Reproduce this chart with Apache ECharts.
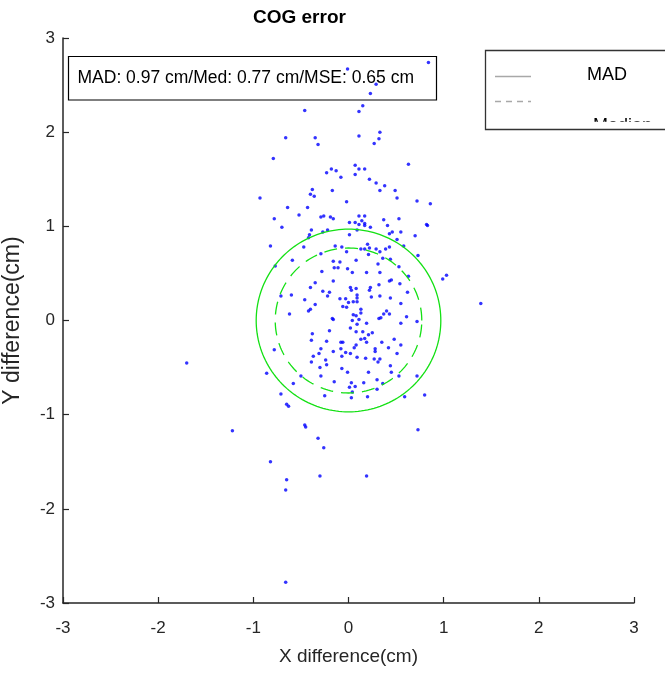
<!DOCTYPE html>
<html>
<head>
<meta charset="utf-8">
<script src="https://cdn.jsdelivr.net/npm/echarts@6/dist/echarts.min.js"></script>
<style>
html,body{margin:0;padding:0;background:#fff;}
#chart{width:665px;height:673px;}
</style>
</head>
<body>
<div id="chart"></div>
<script>
// ---- data ----
const xDiff = [
-0.01,0.84,0.29,0.23,0.15,0.11,0.11,0.33,0.32,0.27,
0.63,-0.18,-0.13,0.07,0.11,0.17,0.07,-0.08,0.22,0.29,
0.38,0.33,0.49,0.51,-0.17,0.72,0.86,-0.02,-0.19,-0.16,
0.11,0.17,0.01,0.07,0.14,0.17,0.17,0.11,0.23,0.37,
0.53,0.41,0.82,0.83,0.09,0.01,0.46,0.43,0.55,0.70,
0.51,-0.46,-0.66,-0.35,-0.32,-0.79,-0.23,-0.93,-0.38,-0.40,
-0.36,-0.64,-0.43,-0.52,-0.29,-0.26,-0.78,-0.70,-0.39,-0.22,
-0.27,-0.41,-0.42,-0.82,-0.47,-0.14,-0.29,-0.59,-0.77,-0.16,
-0.15,-0.11,-0.28,-0.16,-0.35,-0.40,-0.27,-0.20,-0.22,-0.71,
-0.60,-0.46,-0.09,-0.35,-0.40,-0.42,-0.62,-0.17,-0.16,-0.20,
-0.38,-0.39,-0.23,-0.78,-0.29,-0.08,-0.16,-0.37,-0.31,-0.24,
-0.07,-0.02,0.13,0.17,0.20,0.22,0.29,0.33,0.39,0.43,
0.58,0.21,0.36,0.44,0.73,-0.09,0.08,0.31,-0.01,0.04,
0.19,0.33,0.53,0.63,1.03,0.99,0.45,0.43,0.54,0.32,
0.02,0.08,0.23,0.22,0.03,0.62,0.09,0.33,0.24,0.44,
-0.03,0.09,0.09,0.05,0.00,0.55,1.39,-0.06,-0.02,0.13,
0.13,0.40,0.37,0.43,0.05,0.08,0.32,0.34,0.61,0.72,
0.11,0.04,0.55,0.09,0.19,0.02,0.08,0.15,0.21,0.25,
0.48,0.13,0.17,0.19,-0.08,-0.06,0.35,0.55,0.08,0.06,
0.42,0.28,0.28,0.02,-0.03,0.51,-0.07,0.09,0.18,0.27,
0.33,-1.70,-0.39,-0.30,-0.23,-0.86,-0.50,-0.29,-0.58,-0.15,
-0.71,-0.25,-0.65,-0.63,-0.46,-0.45,-1.22,-0.32,-0.26,-0.82,
-0.65,-0.30,-0.66,0.31,0.44,0.45,0.53,0.72,-0.07,-0.01,
0.21,0.03,0.01,0.07,0.16,0.30,0.36,0.30,0.04,0.03,
0.20,0.59,0.80,0.73,0.19,-0.66
];
const yDiff = [
2.67,2.74,2.51,2.41,2.28,2.22,1.96,2.00,1.93,1.88,
1.66,1.61,1.59,1.65,1.61,1.61,1.55,1.52,1.50,1.46,
1.43,1.38,1.38,1.30,1.38,1.27,1.24,1.26,1.10,1.08,
1.11,1.11,1.04,1.04,1.06,1.03,1.01,1.02,0.99,1.07,
1.08,1.01,1.02,1.01,0.96,0.91,0.94,0.92,0.94,0.90,
0.86,2.23,1.94,1.94,1.87,1.72,1.57,1.30,1.39,1.34,
1.32,1.20,1.20,1.12,1.10,1.11,1.08,0.99,0.96,0.96,
0.94,0.91,0.88,0.79,0.78,0.79,0.71,0.64,0.58,0.63,
0.56,0.56,0.52,0.42,0.40,0.35,0.31,0.30,0.26,0.26,
0.27,0.22,0.23,0.17,0.12,0.10,0.07,0.02,0.01,-0.11,
-0.14,-0.21,-0.22,-0.31,-0.30,-0.30,-0.33,-0.38,-0.35,-0.42,
0.78,0.73,0.76,0.76,0.81,0.77,0.76,0.73,0.76,0.78,
0.79,0.70,0.66,0.65,0.69,0.62,0.64,0.60,0.55,0.51,
0.51,0.51,0.57,0.47,0.48,0.44,0.43,0.42,0.39,0.38,
0.35,0.34,0.35,0.32,0.32,0.30,0.27,0.26,0.25,0.24,
0.23,0.24,0.20,0.20,0.19,0.18,0.18,0.15,0.14,0.12,
0.08,0.10,0.07,0.07,0.06,0.05,0.02,0.03,0.04,-0.01,
0.01,0.00,-0.03,-0.04,-0.03,-0.08,-0.12,-0.12,-0.15,-0.13,
-0.20,-0.20,-0.19,-0.23,-0.23,-0.23,-0.23,-0.26,-0.26,-0.29,
-0.29,-0.30,-0.33,-0.35,-0.34,-0.35,-0.38,-0.39,-0.40,-0.41,
-0.41,-0.45,-0.44,-0.50,-0.47,-0.56,-0.59,-0.59,-0.67,-0.65,
-0.78,-0.80,-0.89,-0.91,-1.11,-1.13,-1.17,-1.25,-1.35,-1.50,
-1.69,-1.65,-1.80,-0.44,-0.48,-0.55,-0.59,-0.59,-0.51,-0.55,
-0.55,-0.66,-0.71,-0.70,-0.66,-0.63,-0.67,-0.73,-0.76,-0.82,
-0.81,-0.81,-0.79,-1.16,-1.65,-2.78
];
const madRadius = 0.97;     // cm
const medianRadius = 0.77;  // cm
const mseValue = 0.65;      // cm
const legendNames = ['MAD', 'Median'];
const axisTicks = [-3, -2, -1, 0, 1, 2, 3];
const chartTitle = 'COG error';
const xLabel = 'X difference(cm)';
const yLabel = 'Y difference(cm)';

// ---- derived series ----
const points = xDiff.map((x, i) => [x, yDiff[i]]);
function circle(r) {
  const out = [];
  for (let a = 0; a <= 360; a += 2) {
    const t = a * Math.PI / 180;
    out.push([r * Math.cos(t), r * Math.sin(t)]);
  }
  return out;
}
const FONT = "'Liberation Sans', Arial, Helvetica, sans-serif";
const statText = 'MAD: ' + madRadius.toFixed(2) + ' cm/Med: ' + medianRadius.toFixed(2) +
                 ' cm/MSE: ' + mseValue.toFixed(2) + ' cm';

const chart = echarts.init(document.getElementById('chart'), null, {renderer: 'canvas'});
const axisCommon = {
  type: 'value',
  min: axisTicks[0],
  max: axisTicks[axisTicks.length - 1],
  interval: 1,
  nameLocation: 'middle',
  axisLine: {show: true, onZero: false, lineStyle: {color: '#262626', width: 1.5}},
  axisTick: {show: true, inside: true, length: 6, lineStyle: {color: '#262626', width: 1.2}},
  axisLabel: {color: '#262626', fontSize: 17, fontFamily: FONT, margin: 8},
  splitLine: {show: false}
};
chart.setOption({
  animation: false,
  backgroundColor: '#fff',
  title: {
    text: chartTitle, left: 253, top: 8, padding: 0,
    textStyle: {fontSize: 19, fontWeight: 'bold', fontFamily: FONT, color: '#000'}
  },
  grid: {left: 63, right: 31, top: 38, bottom: 70, containLabel: false, outerBoundsMode: 'none'},
  xAxis: Object.assign({}, axisCommon, {
    name: xLabel, nameGap: 44,
    axisLabel: {color: '#262626', fontSize: 17, fontFamily: FONT, margin: 17},
    nameTextStyle: {fontSize: 19, fontFamily: FONT, color: '#262626'}
  }),
  yAxis: Object.assign({}, axisCommon, {
    name: yLabel, nameGap: 39,
    nameTextStyle: {fontSize: 23, fontFamily: FONT, color: '#262626'}
  }),
  series: [
    {
      type: 'line', name: legendNames[0], data: circle(madRadius),
      showSymbol: false, symbol: 'none', smooth: false, silent: true,
      lineStyle: {color: '#14e014', width: 1.3}
    },
    {
      type: 'line', name: legendNames[1], data: circle(medianRadius),
      showSymbol: false, symbol: 'none', smooth: false, silent: true,
      lineStyle: {color: '#14e014', width: 1.3, type: [13, 8]}
    },
    {
      type: 'scatter', data: points, symbol: 'circle', symbolSize: 3.5, silent: true,
      itemStyle: {color: '#0000ff'}
    }
  ],
  graphic: [
    // statistics text box
    {type: 'rect', z: 100, shape: {x: 68.5, y: 56.5, width: 368, height: 43.5},
     style: {fill: 'none', stroke: '#000', lineWidth: 1.2}},
    {type: 'text', z: 101, style: {text: statText, x: 77.5, y: 78.5, fill: '#000',
     font: '17.5px ' + FONT, verticalAlign: 'middle', align: 'left'}},
    // legend box
    {type: 'rect', z: 100, shape: {x: 485.5, y: 50.5, width: 200, height: 79},
     style: {fill: '#fff', stroke: 'none'}},
    {type: 'line', z: 101, shape: {x1: 495, y1: 76.5, x2: 531, y2: 76.5},
     style: {stroke: '#a8a8a8', lineWidth: 1.5}},
    {type: 'line', z: 101, shape: {x1: 495, y1: 101.5, x2: 531, y2: 101.5},
     style: {stroke: '#a8a8a8', lineWidth: 1.5, lineDash: [6, 5]}},
    {type: 'text', z: 101, style: {text: legendNames[0], x: 587, y: 75, fill: '#000',
     font: '18px ' + FONT, verticalAlign: 'middle', align: 'left'}},
    {type: 'text', z: 101, style: {text: legendNames[1], x: 593, y: 117, fill: '#000',
     font: '18px ' + FONT, verticalAlign: 'top', align: 'left'}},
    {type: 'rect', z: 102, shape: {x: 487, y: 121.8, width: 180, height: 40},
     style: {fill: '#fff', stroke: 'none'}},
    {type: 'rect', z: 103, shape: {x: 485.5, y: 50.5, width: 200, height: 79},
     style: {fill: 'none', stroke: '#333', lineWidth: 1.3}}
  ]
});
</script>
</body>
</html>
